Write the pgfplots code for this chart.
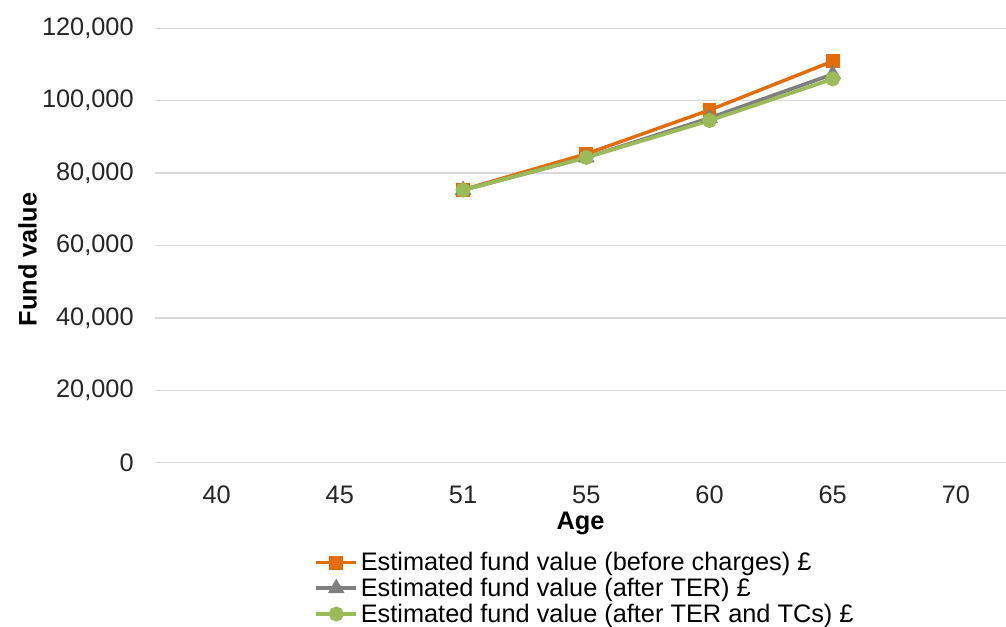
\documentclass[border=0pt]{standalone}
\usepackage{fontspec}
\setmainfont{Liberation Sans}
\usepackage{pgfplots}
\pgfplotsset{compat=1.18}
\definecolor{cOrange}{HTML}{E46C0A}
\definecolor{cGray}{HTML}{808080}
\definecolor{cGreen}{HTML}{9BBB59}
\definecolor{cGrid}{HTML}{D9D9D9}
\begin{document}
\begin{tikzpicture}
\begin{axis}[
  name=ax,
  scale only axis,
  width=638.25pt, height=325.8pt,
  xmin=-0.5, xmax=6.406,
  ymin=0, ymax=120000,
  xtick={0,1,2,3,4,5,6},
  xticklabels={40,45,51,55,60,65,70},
  ytick={0,20000,40000,60000,80000,100000,120000},
  /pgf/number format/assume math mode=true,
  /pgf/number format/.cd, 1000 sep={,}, fixed, precision=0, /pgfplots/.cd,
  scaled y ticks=false,
  major tick length=0pt,
  axis lines*=left,
  x axis line style={cGrid, line width=1.1pt, -},
  y axis line style={draw=none, -},
  ymajorgrids,
  grid style={cGrid, line width=1.1pt},
  tick label style={font=\fontsize{19}{22}\selectfont, text=black!85},
  yticklabel style={xshift=-12.5pt},
  xticklabel style={yshift=-14pt},
  xlabel={\textbf{Age}},
  ylabel={\textbf{Fund value}},
  label style={font=\fontsize{19}{22}\selectfont},
  xlabel style={yshift=1pt},
  ylabel style={at={(ticklabel cs:0.468)}, yshift=-3pt},
  clip=false,
  legend style={at={(axis description cs:0.187,-0.2)}, anchor=north west,
    draw=none, fill=none, font=\fontsize{19}{20}\selectfont, row sep=0pt,
    cells={anchor=west}, inner sep=0pt},
  legend image code/.code={\draw[#1,mark repeat=2,mark phase=2] plot coordinates {(0pt,0pt) (15pt,0pt) (30pt,0pt)};},
]
\addplot[cOrange, line width=2.6pt, mark=square*, mark size=3.9pt, mark options={solid}] coordinates {(2,75400) (3,85300) (4,97400) (5,110900)};
\addlegendentry{Estimated fund value (before charges) £}
\addplot[cGray, line width=2.8pt, mark=triangle*, mark size=4.5pt, mark options={solid}] coordinates {(2,75300) (3,84300) (4,95200) (5,107300)};
\addlegendentry{Estimated fund value (after TER) £}
\addplot[cGreen, line width=2.8pt, mark=*, mark size=4.2pt, mark options={solid}] coordinates {(2,75300) (3,84300) (4,94500) (5,106000)};
\addlegendentry{Estimated fund value (after TER and TCs) £}
\end{axis}
\pgfresetboundingbox
\path[use as bounding box] ([xshift=-116.25pt,yshift=-123.2pt]ax.south west) rectangle ([xshift=638.25pt,yshift=347pt]ax.south west);
\end{tikzpicture}
\end{document}
